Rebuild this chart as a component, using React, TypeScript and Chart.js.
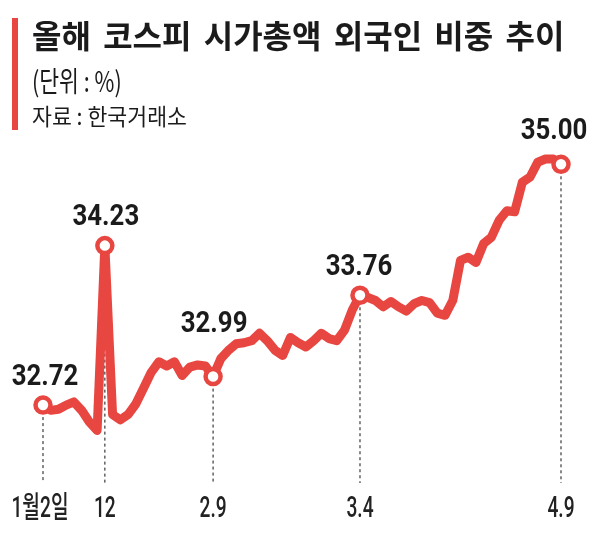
import { useEffect, useRef } from "react"
import { Chart, registerables, Plugin } from "chart.js"

Chart.register(...registerables)

// 외국인 비중 (%) - 거래일별
const values = [
  32.72, 32.67, 32.68, 32.72, 32.75, 32.67, 32.56, 32.48, 34.23, 32.63,
  32.58, 32.63, 32.73, 32.88, 33.03, 33.13, 33.09, 33.13, 33.0, 33.08,
  33.1, 33.09, 32.99, 33.16, 33.24, 33.3, 33.31, 33.33, 33.4, 33.33,
  33.24, 33.19, 33.36, 33.31, 33.27, 33.33, 33.4, 33.35, 33.33, 33.43,
  33.62, 33.76, 33.74, 33.71, 33.65, 33.7, 33.65, 33.61, 33.68, 33.71,
  33.69, 33.59, 33.57, 33.71, 34.09, 34.12, 34.07, 34.25, 34.31, 34.47,
  34.56, 34.55, 34.83, 34.88, 35.02, 35.05, 35.05, 35.0,
]

// 표시할 지점과 날짜 라벨
const markIdx = [0, 8, 22, 41, 67]
const markLabels = ["1월2일", "12", "2.9", "3.4", "4.9"]

const labels = values.map((_, i) => {
  const k = markIdx.indexOf(i)
  return k >= 0 ? markLabels[k] : ""
})

const RED = "#e84641"
const LABEL_FONT = "500 30px Roboto, 'Noto Sans CJK KR', sans-serif"
const VALUE_FONT = "bold 30px Roboto, sans-serif"

// 값 라벨 위치 보정 (dx, 기준선 dy)
const valueLabelOffset: Record<number, [number, number]> = {
  0: [2, -20],
  8: [1, -21],
  22: [1, -45],
  41: [-1, -20],
  67: [-7, -25],
}

const annotations: Plugin<"line"> = {
  id: "annotations",
  beforeDatasetsDraw(chart) {
    const ctx = chart.ctx
    const meta = chart.getDatasetMeta(0)
    ctx.save()
    ctx.strokeStyle = "#3a3a3a"
    ctx.lineWidth = 1.2
    ctx.setLineDash([3, 3])
    markIdx.forEach(i => {
      const p = meta.data[i]
      ctx.beginPath()
      ctx.moveTo(p.x, p.y)
      ctx.lineTo(p.x, 483)
      ctx.stroke()
    })
    ctx.restore()
  },
  afterDatasetsDraw(chart) {
    const ctx = chart.ctx
    const meta = chart.getDatasetMeta(0)
    ctx.save()
    ctx.textAlign = "center"
    ctx.textBaseline = "alphabetic"
    markIdx.forEach((i, k) => {
      const p = meta.data[i]
      const [dx, dy] = valueLabelOffset[i]
      // 값 라벨
      ctx.save()
      ctx.translate(p.x + dx, p.y + dy)
      ctx.scale(0.86, 1)
      ctx.fillStyle = "#1b1b1b"
      ctx.font = VALUE_FONT
      ctx.fillText(values[i].toFixed(2), 0, 0)
      ctx.restore()
      // 날짜 라벨
      ctx.save()
      ctx.translate(p.x - (k === 0 ? 3 : 0), 517)
      ctx.scale(0.64, 1)
      ctx.fillStyle = "#222"
      ctx.font = LABEL_FONT
      ctx.fillText(markLabels[k], 0, 0)
      ctx.restore()
    })
    ctx.restore()
  },
}

function LineChart() {
  const canvasRef = useRef<HTMLCanvasElement>(null)
  const chartRef = useRef<Chart | null>(null)

  useEffect(() => {
    if (!canvasRef.current) return
    if (chartRef.current) chartRef.current.destroy()
    const ctx = canvasRef.current.getContext("2d")
    if (!ctx) return

    chartRef.current = new Chart(ctx, {
      type: "line",
      data: {
        labels,
        datasets: [
          {
            data: values,
            borderColor: RED,
            borderWidth: 9,
            borderJoinStyle: "round",
            borderCapStyle: "round",
            tension: 0,
            fill: false,
            pointRadius: values.map((_, i) => (markIdx.includes(i) ? 7.5 : 0)),
            pointHoverRadius: 0,
            pointBackgroundColor: "#fff",
            pointBorderColor: RED,
            pointBorderWidth: 4.5,
          },
        ],
      },
      options: {
        animation: false,
        responsive: true,
        maintainAspectRatio: false,
        layout: { padding: { left: 43, right: 42, top: 140, bottom: 81 } },
        plugins: {
          legend: { display: false },
          tooltip: { enabled: false },
        },
        scales: {
          x: { display: false, offset: false },
          y: { display: false, min: 32.2, max: 35.23 },
        },
      },
      plugins: [annotations],
    })

    // 캔버스 글꼴이 늦게 불러와지면 다시 그림
    Promise.all([document.fonts.load(LABEL_FONT, "1월2일"), document.fonts.load(VALUE_FONT, "35.00")])
      .then(() => chartRef.current?.update())
      .catch(() => {})

    return () => {
      if (chartRef.current) {
        chartRef.current.destroy()
        chartRef.current = null
      }
    }
  }, [])

  return <canvas ref={canvasRef} />
}

export default function App() {
  return (
    <div
      style={{
        position: "absolute",
        left: 0,
        top: 0,
        width: 603,
        height: 541,
        background: "#fff",
        fontFamily: "'Noto Sans CJK KR', sans-serif",
        color: "#1b1b1b",
        overflow: "hidden",
      }}
    >
      <div style={{ position: "absolute", left: 0, top: 0, width: 603, height: 541 }}>
        <LineChart />
      </div>
      <div style={{ position: "absolute", left: 12, top: 18, width: 6, height: 112, background: RED }} />
      <div
        style={{
          position: "absolute",
          left: 32,
          top: 18,
          fontSize: 32,
          lineHeight: "32px",
          fontWeight: 700,
          wordSpacing: 5,
          whiteSpace: "nowrap",
        }}
      >
        올해 코스피 시가총액 외국인 비중 추이
      </div>
      <div
        style={{
          position: "absolute",
          left: 32,
          top: 66,
          fontSize: 28,
          lineHeight: "28px",
          whiteSpace: "nowrap",
          transform: "scaleX(0.77)",
          transformOrigin: "left top",
        }}
      >
        (단위 : %)
      </div>
      <div
        style={{
          position: "absolute",
          left: 32,
          top: 104,
          fontSize: 23,
          lineHeight: "23px",
          whiteSpace: "nowrap",
          transform: "scaleX(0.94)",
          transformOrigin: "left top",
        }}
      >
        자료 : 한국거래소
      </div>
    </div>
  )
}
